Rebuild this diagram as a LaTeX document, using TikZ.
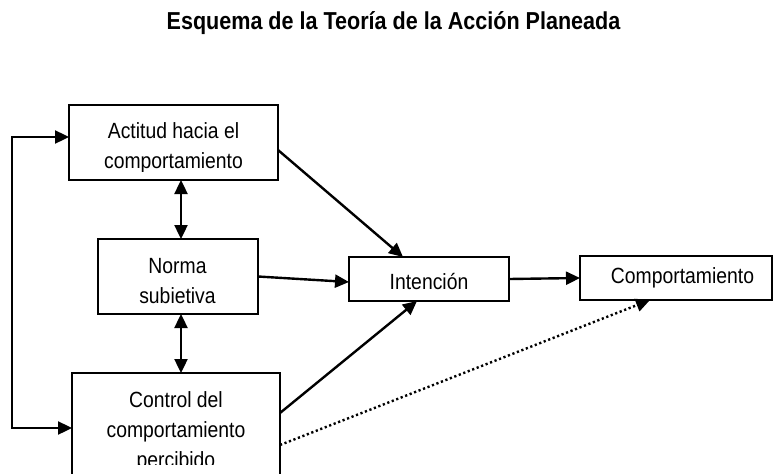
\documentclass[tikz,border=0pt]{standalone}
\usepackage{fontspec}
\setmainfont{Liberation Sans}[FakeStretch=0.88]
\usetikzlibrary{arrows.meta}
\tikzset{
	caja/.style={draw, line width=2.2pt, inner sep=0pt, outer sep=0pt, anchor=north west},
	texto/.style={anchor=base, align=center, inner sep=0pt, font=\fontsize{22}{30}\selectfont},
	flecha/.style={-{Triangle[length=14pt,width=13pt]}, line width=2.4pt},
	doble/.style={{Triangle[length=14pt,width=13pt]}-{Triangle[length=14pt,width=13pt]}, line width=2.4pt},
	punteado/.style={flecha, dash pattern=on 2.2pt off 2.6pt}
}
\begin{document}
\begin{tikzpicture}[x=1pt, y=-1pt]
	\useasboundingbox (0,0) rectangle (774,474);
	\node[anchor=base, inner sep=0pt, font=\fontsize{24.5}{28}\selectfont\bfseries] (titulo) at (393.5,29) {Esquema de la Teoría de la Acción Planeada};
	
	\node[caja, minimum width=209pt, minimum height=75pt] (actitud) at (69,105) {};
	\node[caja, minimum width=160pt, minimum height=75pt] (norma) at (98,239) {};
	\node[caja, minimum width=208pt, minimum height=110pt] (control) at (72,373) {};
	\node[caja, minimum width=160pt, minimum height=44pt] (intencion) at (349,257) {};
	\node[caja, minimum width=192pt, minimum height=44pt] (comport) at (580,256) {};
	
	\begin{scope}
		\clip (actitud.north west) rectangle ([yshift=9pt]actitud.south east);
		\node[texto] (tactitud) at (173.5,168) {Actitud hacia el\\comportamiento};
	\end{scope}
	\begin{scope}
		\clip (norma.north west) rectangle ([yshift=9pt]norma.south east);
		\node[texto] (tnorma) at (177.5,303) {Norma\\subietiva};
	\end{scope}
	\begin{scope}
		\clip (control.north west) rectangle ([yshift=19pt]control.south east);
		\node[texto] (tcontrol) at (176,467) {Control del\\comportamiento\\percibido};
	\end{scope}
	\node[texto] (tintencion) at (429,289) {Intención};
	\node[texto] (tcomport) at (682.5,283) {Comportamiento};
	
	\draw[flecha] ([yshift=-7.5pt]actitud.east) -- ([xshift=-26pt]intencion.north);
	\draw[flecha] (norma.east) -- ([yshift=-3pt]intencion.west);
	\draw[flecha] ([yshift=15pt]control.east) -- ([xshift=-12pt]intencion.south);
	\draw[flecha] (intencion.east) -- (comport.west);
	\draw[punteado] ([yshift=-17pt]control.east) -- ([xshift=-26pt]comport.south);
	
	\draw[doble] ([xshift=3pt]norma.north |- actitud.south) -- ([xshift=3pt]norma.north);
	\draw[doble] ([xshift=3pt]norma.south) -- ([xshift=3pt]norma.south |- control.north);
	
	\draw[doble] ([yshift=5.5pt]actitud.west) -| (12,428) -- (control.west);
\end{tikzpicture}
\end{document}
